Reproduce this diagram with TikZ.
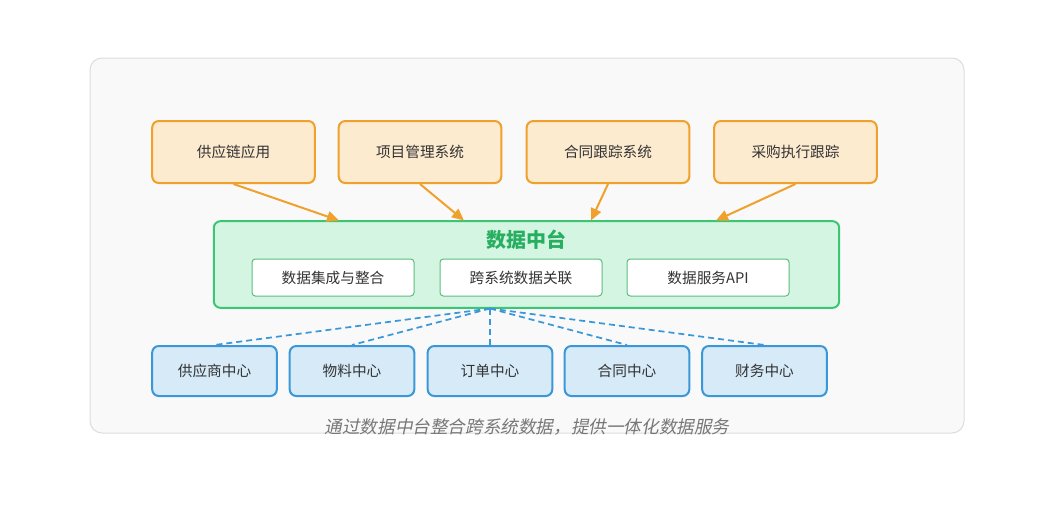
\documentclass[tikz,border=0pt]{standalone}
\usepackage{fontspec}
\setmainfont{Noto Sans CJK SC}
\newfontfamily\capfont[FakeSlant=0.2]{Noto Sans CJK SC}
\usetikzlibrary{arrows.meta}
\definecolor{panelfill}{HTML}{F9F9F9}
\definecolor{panelline}{HTML}{DDDDDD}
\definecolor{orline}{HTML}{F0A02C}
\definecolor{orfill}{HTML}{FDEBD0}
\definecolor{grline}{HTML}{3CC674}
\definecolor{grfill}{HTML}{D5F5E3}
\definecolor{grtitle}{HTML}{27AE60}
\definecolor{grinner}{HTML}{5CBD7F}
\definecolor{blline}{HTML}{3A98D8}
\definecolor{blfill}{HTML}{D6EAF8}
\definecolor{txt}{HTML}{333333}
\definecolor{captxt}{HTML}{777777}
\begin{document}
\begin{tikzpicture}[x=0.75pt,y=-0.75pt,
  appbox/.style={draw=orline,fill=orfill,line width=1.5pt,rounded corners=5pt,minimum width=122pt,minimum height=46.5pt,inner sep=0pt,text=txt,font=\fontsize{11pt}{13pt}\selectfont},
  hubbox/.style={draw=grline,fill=grfill,line width=1.5pt,rounded corners=5pt,minimum width=469pt,minimum height=65pt,inner sep=0pt},
  innerbox/.style={draw=grinner,fill=white,line width=0.75pt,rounded corners=2.5pt,minimum width=121.5pt,minimum height=27.75pt,inner sep=0pt,text=txt,font=\fontsize{11pt}{13pt}\selectfont},
  centerbox/.style={draw=blline,fill=blfill,line width=1.5pt,rounded corners=5pt,minimum width=93.5pt,minimum height=37.5pt,inner sep=0pt,text=txt,font=\fontsize{11pt}{13pt}\selectfont},
  feed/.style={draw=orline,line width=1.5pt,-{Triangle[length=9pt,width=8pt]}},
  link/.style={draw=blline,line width=1.3pt,dash pattern=on 4.5pt off 3pt},
]
\useasboundingbox (0,0) rectangle (1052,514);
\fill[white] (0,0) rectangle (1052,514);
\draw[fill=panelfill,draw=panelline,line width=0.75pt,rounded corners=9pt] (90,58) rectangle (964,433);

% top applications
\node[appbox] (a1) at (233.5,152) {供应链应用};
\node[appbox] (a2) at (420,152) {项目管理系统};
\node[appbox] (a3) at (608,152) {合同跟踪系统};
\node[appbox] (a4) at (795.5,152) {采购执行跟踪};

% hub
\node[hubbox] (hub) at (526.5,264.5) {};
\node[text=grtitle,font=\fontsize{15pt}{17pt}\selectfont\bfseries] (title) at (526.5,240) {数据中台};
\node[innerbox] (i1) at (333,277.5) {数据集成与整合};
\node[innerbox] (i2) at (521,277.5) {跨系统数据关联};
\node[innerbox] (i3) at (708,277.5) {数据服务API};

% bottom centers
\node[centerbox] (c1) at (214.5,371) {供应商中心};
\node[centerbox] (c2) at (352,371) {物料中心};
\node[centerbox] (c3) at (490,371) {订单中心};
\node[centerbox] (c4) at (627,371) {合同中心};
\node[centerbox] (c5) at (764.5,371) {财务中心};

% arrow targets on hub top
\coordinate (t1) at (339,220.5);
\coordinate (t2) at (464,220.5);
\coordinate (t3) at (591,220.5);
\coordinate (t4) at (716,220.5);
\draw[feed] (a1.south) -- (t1);
\draw[feed] (a2.south) -- (t2);
\draw[feed] (a3.south) -- (t3);
\draw[feed] (a4.south) -- (t4);

% dashed links
\coordinate (hb) at (490,308.5);
\draw[link] (hb) -- (c1.north);
\draw[link] (hb) -- (c2.north);
\draw[link,line width=1.5pt] (hb) -- (c3.north);
\draw[link] (hb) -- (c4.north);
\draw[link] (hb) -- (c5.north);

\node[text=captxt,font=\capfont\fontsize{13.2pt}{15pt}\selectfont] (cap) at (527,427) {通过数据中台整合跨系统数据，提供一体化数据服务};
\end{tikzpicture}
\end{document}
